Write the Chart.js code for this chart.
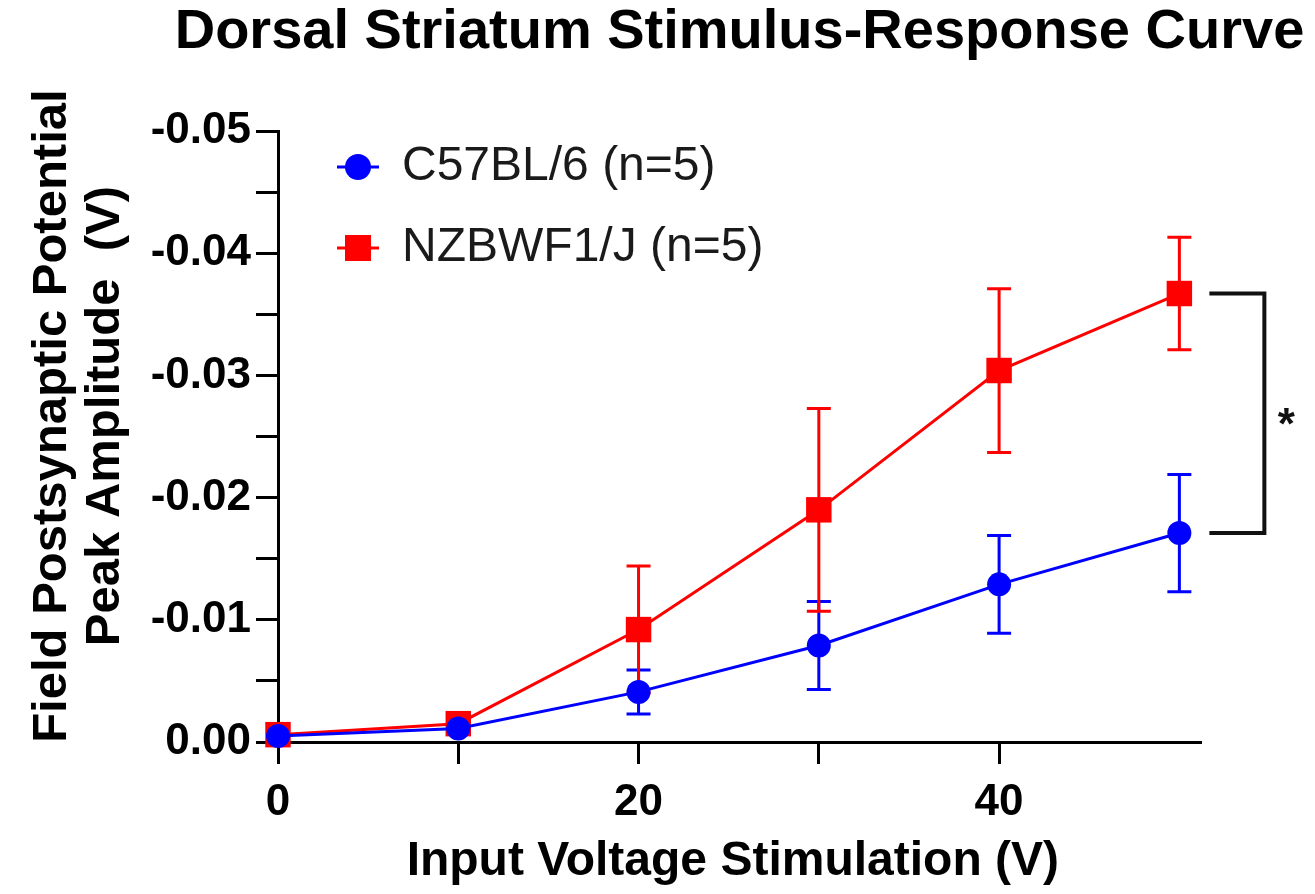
<!DOCTYPE html>
<html>
<head>
<meta charset="utf-8">
<title>Dorsal Striatum Stimulus-Response Curve</title>
<script src="https://cdn.jsdelivr.net/npm/chart.js@4.4.1/dist/chart.umd.min.js"></script>
<style>
  html, body { margin: 0; padding: 0; background: #fff; }
  #wrap { width: 1315px; height: 894px; }
</style>
</head>
<body>
<div id="wrap"><canvas id="grafico" width="1315" height="894"></canvas></div>
<script>
// valores (V)
const voltajes = [0, 10, 20, 30, 40, 50];
const c57Media = [-0.0005, -0.0011, -0.0041, -0.0079, -0.0129, -0.0171];
const c57Error = [0.0002, 0.0002, 0.0018, 0.0036, 0.0040, 0.0048];
const nzbMedia = [-0.0006, -0.0015, -0.0092, -0.0190, -0.0304, -0.0367];
const nzbError = [0.0002, 0.0002, 0.0052, 0.0083, 0.0067, 0.0046];
const etiquetasX = [0, 20, 40];
const etiquetasY = [0, -0.01, -0.02, -0.03, -0.04, -0.05];
const nombres = ["C57BL/6 (n=5)", "NZBWF1/J (n=5)"];
const titulo = "Dorsal Striatum Stimulus-Response Curve";

const fuente = "'Liberation Sans', Arial, sans-serif";

// título centrado sobre el área de datos (sin comprimir el texto)
const tituloPlugin = {
  id: "tituloPlugin",
  afterDraw(chart) {
    const { ctx, chartArea } = chart;
    ctx.save();
    ctx.fillStyle = "#000";
    ctx.font = "bold 56px " + fuente;
    ctx.textAlign = "center";
    ctx.textBaseline = "middle";
    ctx.fillText(titulo, (chartArea.left + chartArea.right) / 2, 33);
    ctx.restore();
  }
};

// barras de error (media ± error)
const barrasError = {
  id: "barrasError",
  beforeDatasetsDraw(chart) {
    const { ctx, scales: { x, y } } = chart;
    chart.data.datasets.forEach((ds) => {
      ctx.save();
      ctx.strokeStyle = ds.borderColor;
      ctx.lineWidth = 3;
      ds.data.forEach((p, j) => {
        const e = ds.errores[j];
        const px = x.getPixelForValue(p.x);
        const y1 = y.getPixelForValue(p.y - e);
        const y2 = y.getPixelForValue(p.y + e);
        ctx.beginPath();
        ctx.moveTo(px, y1); ctx.lineTo(px, y2);
        ctx.moveTo(px - 12, y1); ctx.lineTo(px + 12, y1);
        ctx.moveTo(px - 12, y2); ctx.lineTo(px + 12, y2);
        ctx.stroke();
      });
      ctx.restore();
    });
  }
};

// corchete de significancia en el último punto
const corchete = {
  id: "corchete",
  afterDatasetsDraw(chart) {
    const { ctx, scales: { x, y } } = chart;
    const n = voltajes.length - 1;
    const px = x.getPixelForValue(voltajes[n]);
    const yA = y.getPixelForValue(nzbMedia[n]);
    const yB = y.getPixelForValue(c57Media[n]);
    ctx.save();
    ctx.strokeStyle = "#111";
    ctx.lineWidth = 4;
    ctx.beginPath();
    ctx.moveTo(px + 30, yA); ctx.lineTo(px + 85, yA);
    ctx.lineTo(px + 85, yB); ctx.lineTo(px + 30, yB);
    ctx.stroke();
    ctx.fillStyle = "#111";
    ctx.font = "bold 44px " + fuente;
    ctx.textAlign = "center";
    ctx.textBaseline = "alphabetic";
    ctx.fillText("*", px + 107, (yA + yB) / 2 + 26);
    ctx.restore();
  }
};

// leyenda dentro del área del gráfico
const leyenda = {
  id: "leyenda",
  afterDraw(chart) {
    const { ctx, chartArea } = chart;
    ctx.save();
    chart.data.datasets.forEach((ds, i) => {
      const cx = chartArea.left + 80;
      const cy = chartArea.top + 36 + i * 81;
      ctx.strokeStyle = ds.borderColor;
      ctx.fillStyle = ds.borderColor;
      ctx.lineWidth = 3;
      ctx.beginPath();
      ctx.moveTo(cx - 21, cy); ctx.lineTo(cx + 21, cy);
      ctx.stroke();
      if (ds.pointStyle === "rect") {
        ctx.fillRect(cx - 13, cy - 13, 26, 26);
      } else {
        ctx.beginPath();
        ctx.arc(cx, cy, 13, 0, Math.PI * 2);
        ctx.fill();
      }
      ctx.fillStyle = "#1a1a1a";
      ctx.font = "48px " + fuente;
      ctx.textAlign = "left";
      ctx.textBaseline = "middle";
      ctx.fillText(ds.label, cx + 44, cy);
    });
    ctx.restore();
  }
};

const ctx = document.getElementById("grafico").getContext("2d");
new Chart(ctx, {
  type: "line",
  data: {
    datasets: [
      {
        label: nombres[0],
        data: voltajes.map((v, i) => ({ x: v, y: c57Media[i] })),
        errores: c57Error,
        borderColor: "#0000ff",
        backgroundColor: "#0000ff",
        borderWidth: 3,
        pointStyle: "circle",
        pointRadius: 12,
        pointBorderWidth: 0,
        clip: false
      },
      {
        label: nombres[1],
        data: voltajes.map((v, i) => ({ x: v, y: nzbMedia[i] })),
        errores: nzbError,
        borderColor: "#ff0000",
        backgroundColor: "#ff0000",
        borderWidth: 3,
        pointStyle: "rect",
        pointRadius: 18,
        pointBorderWidth: 0,
        clip: false
      }
    ]
  },
  options: {
    responsive: false,
    animation: false,
    layout: { padding: { left: 0, right: 114, top: 131, bottom: 0 } },
    plugins: {
      legend: { display: false },
      tooltip: { enabled: false },
      title: { display: false }
    },
    scales: {
      x: {
        type: "linear",
        min: 0,
        max: 51.2,
        afterBuildTicks: (s) => { s.ticks = s.ticks.filter((t) => Math.abs(t.value % 10) < 1e-9); },
        afterFit: (s) => { s.height = 152; },
        ticks: {
          stepSize: 10,
          autoSkip: false,
          maxRotation: 0,
          color: "#000",
          padding: 12,
          font: { family: fuente, size: 44, weight: "bold" },
          callback: (v) => (etiquetasX.includes(v) ? String(v) : "")
        },
        grid: { drawOnChartArea: false, drawTicks: true, tickLength: 22, tickWidth: 3, tickColor: "#000" },
        border: { color: "#000", width: 3 },
        title: {
          display: true,
          text: "Input Voltage Stimulation (V) ",
          color: "#000",
          font: { family: fuente, size: 48, weight: "bold", lineHeight: 1.2 },
          padding: { top: 0, bottom: 3 }
        }
      },
      y: {
        type: "linear",
        reverse: true,
        min: -0.05,
        max: 0,
        afterFit: (s) => { s.width = 278; },
        ticks: {
          stepSize: 0.005,
          autoSkip: false,
          color: "#000",
          padding: 5,
          font: { family: fuente, size: 44, weight: "bold" },
          callback: (v) => {
            const e = etiquetasY.find((t) => Math.abs(t - v) < 1e-6);
            if (e === undefined) return "";
            return e === 0 ? "0.00" : e.toFixed(2);
          }
        },
        grid: { drawOnChartArea: false, drawTicks: true, tickLength: 22, tickWidth: 3, tickColor: "#000" },
        border: { color: "#000", width: 3 },
        title: {
          display: true,
          text: ["   Field Postsynaptic Potential", "   Peak Amplitude  (V)"],
          color: "#000",
          font: { family: fuente, size: 49, weight: "bold", lineHeight: 1.08 },
          padding: { top: 26, bottom: 0 }
        }
      }
    }
  },
  plugins: [barrasError, corchete, leyenda, tituloPlugin]
});
</script>
</body>
</html>
